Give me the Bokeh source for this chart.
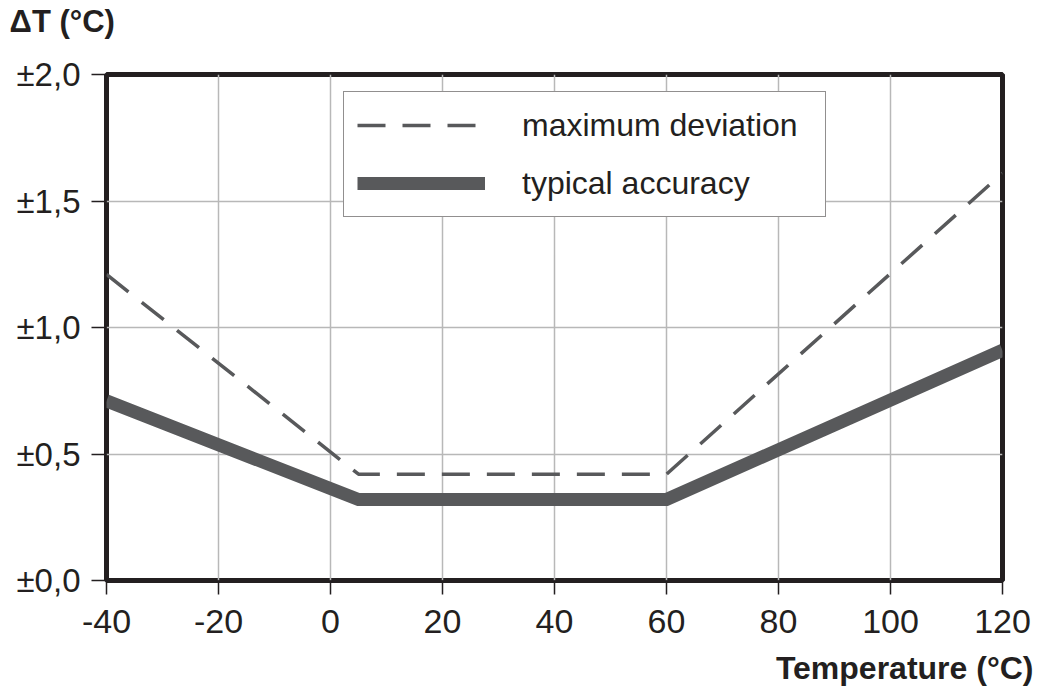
from bokeh.plotting import figure
from bokeh.models import Range1d, FixedTicker, Legend, LegendItem, Label
from bokeh.embed import file_html
from bokeh.resources import INLINE

# ---- data ----
temperature = [-40, 5, 60, 120]
maximum_deviation = [1.21, 0.42, 0.42, 1.61]
typical_accuracy = [0.71, 0.32, 0.32, 0.91]
x_ticks = [-40, -20, 0, 20, 40, 60, 80, 100, 120]
x_tick_labels = ["-40", "-20", "0", "20", "40", "60", "80", "100", "120"]
y_ticks = [0.0, 0.5, 1.0, 1.5, 2.0]
y_tick_labels = ["±0,0", "±0,5", "±1,0", "±1,5", "±2,0"]

FONT = "Liberation Sans"
TXT = "#231f20"
LINE = "#58595b"
GRID = "#b8b8b8"

p = figure(width=1033, height=688, output_backend="svg", toolbar_location=None,
           x_range=Range1d(-40, 120), y_range=Range1d(0, 2),
           min_border_left=106, min_border_top=74, min_border_right=31,
           min_border_bottom=108)
p.background_fill_color = "white"
p.border_fill_color = "white"
p.outline_line_color = TXT
p.outline_line_width = 5

for ax in (p.xaxis[0], p.yaxis[0]):
    ax.axis_line_color = None
    ax.major_tick_in = 0
    ax.minor_tick_line_color = None
    ax.major_tick_line_color = TXT
    ax.major_tick_line_width = 1.5
    ax.major_label_text_font = FONT
    ax.major_label_text_color = TXT

p.xaxis.ticker = FixedTicker(ticks=x_ticks)
p.xaxis.major_label_overrides = {t: l for t, l in zip(x_ticks, x_tick_labels)}
p.xaxis.major_tick_out = 14
p.xaxis.major_label_standoff = 15
p.xaxis.major_label_text_font_size = "34px"

p.yaxis.ticker = FixedTicker(ticks=y_ticks)
p.yaxis.major_label_overrides = {t: l for t, l in zip(y_ticks, y_tick_labels)}
p.yaxis.major_tick_out = 15
p.yaxis.major_label_standoff = 11
p.yaxis.major_label_text_font_size = "33px"

p.xgrid.ticker = FixedTicker(ticks=x_ticks)
p.ygrid.ticker = FixedTicker(ticks=y_ticks)
for g in (p.xgrid[0], p.ygrid[0]):
    g.grid_line_color = GRID
    g.grid_line_width = 1.5

r_max = p.line(temperature, maximum_deviation, line_color=LINE, line_width=3.5,
               line_dash="28 17")
r_typ = p.line(temperature, typical_accuracy, line_color=LINE, line_width=13,
               line_join="miter")

legend = Legend(items=[LegendItem(label="maximum deviation", renderers=[r_max]),
                       LegendItem(label="typical accuracy", renderers=[r_typ])],
                location=(237, 363), orientation="vertical",
                glyph_width=128, glyph_height=40, label_height=40, label_width=290,
                label_standoff=37, spacing=18, padding=13,
                label_text_font=FONT, label_text_font_size="32px",
                label_text_color=TXT,
                border_line_color=TXT, border_line_width=1.5,
                background_fill_color="white", background_fill_alpha=1.0)
p.add_layout(legend, "center")

# axis titles as labels in the side panels (not clipped to the frame)
p.add_layout(Label(x=-57.3, y=2.209, text="ΔT (°C)", text_font=FONT,
                   text_font_style="bold", text_font_size="31px",
                   text_color=TXT, text_baseline="alphabetic",
                   text_align="left"), "above")
p.add_layout(Label(x=125.53, y=-0.347, text="Temperature (°C)", text_font=FONT,
                   text_font_style="bold", text_font_size="32px",
                   text_color=TXT, text_baseline="alphabetic",
                   text_align="right"), "below")

open("out.html", "w").write(file_html(p, INLINE))
